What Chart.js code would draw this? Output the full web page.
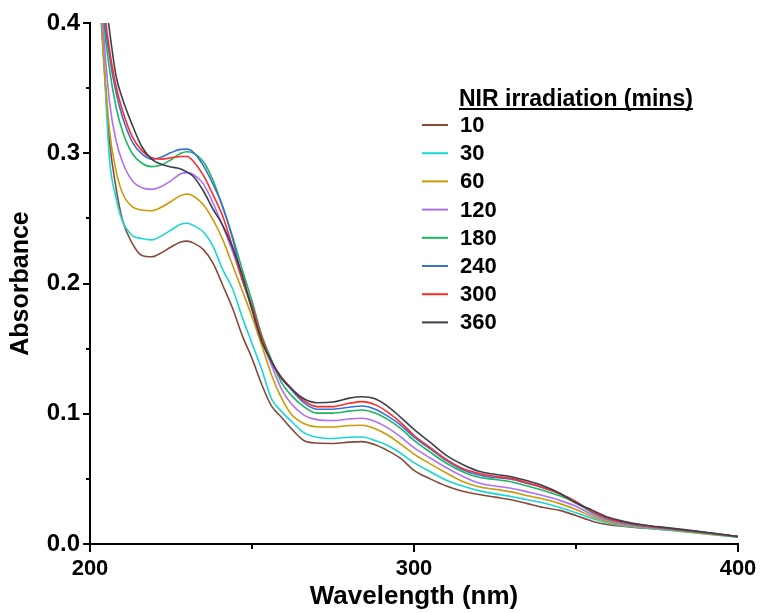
<!DOCTYPE html>
<html>
<head>
<meta charset="utf-8">
<script src="https://cdn.jsdelivr.net/npm/chart.js@4.4.1/dist/chart.umd.min.js"></script>
<style>
  html, body { margin: 0; padding: 0; background: #fff; }
  #wrap { width: 762px; height: 613px; }
</style>
</head>
<body>
<div id="wrap"><canvas id="uvChart" width="762" height="613"></canvas></div>
<script>
// wavelength (nm)
var wavelengths = [200, 202, 204, 206, 208, 210, 213, 216, 219, 222, 225, 228, 230, 232, 235, 238, 241, 244, 247, 250,
  253, 256, 259, 262, 266, 270, 275, 280, 284, 288, 292, 296, 300, 305, 310, 315, 320, 325, 330, 335,
  340, 345, 350, 355, 360, 365, 370, 380, 390, 400];

var seriesLabels = ["10", "30", "60", "120", "180", "240", "300", "360"];
var seriesColors = ["#874a3a", "#1ad6d6", "#cc9a06", "#b070f0", "#1db560", "#3b70d6", "#ff2a2a", "#3a3f4e"];

var abs10 = [0.56, 0.46, 0.38, 0.31, 0.274, 0.249, 0.231, 0.2215, 0.2205, 0.2235, 0.228, 0.2318, 0.2325, 0.231, 0.226, 0.2155, 0.1985, 0.181, 0.160, 0.1425,
  0.1225, 0.106, 0.0975, 0.089, 0.0795, 0.0775, 0.0772, 0.0782, 0.0786, 0.0762, 0.0715, 0.0655, 0.0565, 0.050, 0.0445, 0.0405, 0.038, 0.036, 0.034, 0.031,
  0.028, 0.0258, 0.0218, 0.0175, 0.0148, 0.0135, 0.0124, 0.0105, 0.0082, 0.0058];
var abs30 = [0.58, 0.47, 0.385, 0.296, 0.266, 0.248, 0.237, 0.2345, 0.2335, 0.2365, 0.241, 0.2455, 0.2462, 0.2445, 0.2395, 0.2283, 0.2105, 0.196, 0.174, 0.154,
  0.134, 0.1115, 0.102, 0.0945, 0.0855, 0.082, 0.081, 0.082, 0.0822, 0.0795, 0.0755, 0.0695, 0.0625, 0.0555, 0.049, 0.0445, 0.041, 0.0385, 0.0365, 0.034,
  0.0315, 0.028, 0.024, 0.0195, 0.016, 0.0138, 0.0125, 0.0102, 0.0078, 0.0052];
var abs60 = [0.59, 0.48, 0.385, 0.318, 0.287, 0.2695, 0.259, 0.2564, 0.2559, 0.2585, 0.263, 0.2675, 0.2687, 0.267, 0.2605, 0.2488, 0.2335, 0.214, 0.1945, 0.1745,
  0.1525, 0.130, 0.1125, 0.100, 0.0925, 0.090, 0.0898, 0.091, 0.0912, 0.0885, 0.0835, 0.0765, 0.069, 0.0615, 0.0545, 0.048, 0.044, 0.042, 0.040, 0.037,
  0.0345, 0.031, 0.0265, 0.021, 0.017, 0.0145, 0.013, 0.0105, 0.008, 0.0055];
var abs120 = [0.62, 0.49, 0.40, 0.34, 0.31, 0.2935, 0.279, 0.2735, 0.2723, 0.2745, 0.279, 0.2842, 0.2851, 0.2835, 0.2765, 0.2616, 0.244, 0.2245, 0.2025, 0.180,
  0.156, 0.1375, 0.1195, 0.108, 0.099, 0.0955, 0.0948, 0.096, 0.0965, 0.094, 0.089, 0.082, 0.074, 0.066, 0.0585, 0.052, 0.0468, 0.0445, 0.0428, 0.040,
  0.037, 0.0335, 0.029, 0.0225, 0.018, 0.015, 0.0135, 0.011, 0.0085, 0.0055];
var abs180 = [0.66, 0.51, 0.41, 0.365, 0.336, 0.317, 0.300, 0.2923, 0.2897, 0.291, 0.295, 0.300, 0.3012, 0.300, 0.2935, 0.279, 0.258, 0.236, 0.2105, 0.1865,
  0.1605, 0.1415, 0.1245, 0.1145, 0.1055, 0.1005, 0.1005, 0.102, 0.1029, 0.1005, 0.0955, 0.0885, 0.0795, 0.0705, 0.062, 0.0555, 0.0512, 0.0495, 0.0478, 0.0445,
  0.041, 0.037, 0.0315, 0.024, 0.019, 0.016, 0.014, 0.0112, 0.0085, 0.0055];
var abs240 = [0.68, 0.52, 0.415, 0.375, 0.347, 0.328, 0.309, 0.2995, 0.2955, 0.297, 0.3005, 0.303, 0.3032, 0.3005, 0.2905, 0.276, 0.259, 0.2345, 0.2035, 0.1825,
  0.158, 0.1395, 0.128, 0.119, 0.1085, 0.1035, 0.1035, 0.105, 0.106, 0.1035, 0.098, 0.091, 0.082, 0.073, 0.064, 0.057, 0.053, 0.051, 0.0497, 0.0465,
  0.043, 0.0385, 0.0325, 0.025, 0.0195, 0.0165, 0.0145, 0.0115, 0.0088, 0.0056];
var abs300 = [0.70, 0.53, 0.425, 0.38, 0.352, 0.333, 0.313, 0.302, 0.2965, 0.2955, 0.2965, 0.2975, 0.2975, 0.2935, 0.283, 0.268, 0.2515, 0.228, 0.203, 0.1825,
  0.1585, 0.140, 0.1285, 0.120, 0.110, 0.1055, 0.1055, 0.108, 0.1093, 0.107, 0.101, 0.093, 0.0835, 0.074, 0.065, 0.058, 0.0543, 0.052, 0.0504, 0.047,
  0.0432, 0.0385, 0.0325, 0.025, 0.0195, 0.0165, 0.0145, 0.0115, 0.0088, 0.0057];
var abs360 = [0.72, 0.55, 0.44, 0.395, 0.36, 0.342, 0.322, 0.305, 0.2955, 0.2915, 0.2895, 0.288, 0.2855, 0.282, 0.271, 0.257, 0.2445, 0.2275, 0.2065, 0.180,
  0.1555, 0.1405, 0.1275, 0.1195, 0.1115, 0.1085, 0.109, 0.112, 0.1131, 0.1115, 0.1055, 0.097, 0.088, 0.078, 0.068, 0.061, 0.0558, 0.0535, 0.0517, 0.0485,
  0.0445, 0.039, 0.0315, 0.026, 0.0205, 0.0172, 0.015, 0.012, 0.009, 0.0058];

var allSeries = [abs10, abs30, abs60, abs120, abs180, abs240, abs300, abs360];

var xMinorTicks = [250, 350];
var yMinorTicks = [0.05, 0.15, 0.25, 0.35];

var boldFont = "'Liberation Sans', Arial, sans-serif";

var datasets = allSeries.map(function(vals, i) {
  return {
    label: seriesLabels[i],
    data: vals.map(function(v, j) { return { x: wavelengths[j], y: v }; }),
    borderColor: seriesColors[i],
    backgroundColor: seriesColors[i],
    borderWidth: 1.6,
    pointRadius: 0,
    cubicInterpolationMode: "monotone",
    fill: false,
    order: allSeries.length - i   // later series drawn on top
  };
});

// minor ticks on both axes
var minorTicksPlugin = {
  id: "minorTicks",
  afterDraw: function(chart) {
    var ctx = chart.ctx;
    var xs = chart.scales.x, ys = chart.scales.y;
    ctx.save();
    ctx.strokeStyle = "#000";
    ctx.lineWidth = 2;
    xMinorTicks.forEach(function(v) {
      var px = Math.round(xs.getPixelForValue(v));
      ctx.beginPath();
      ctx.moveTo(px, ys.bottom);
      ctx.lineTo(px, ys.bottom + 5);
      ctx.stroke();
    });
    yMinorTicks.forEach(function(v) {
      var py = Math.round(ys.getPixelForValue(v));
      ctx.beginPath();
      ctx.moveTo(xs.left, py);
      ctx.lineTo(xs.left - 4, py);
      ctx.stroke();
    });
    ctx.restore();
  }
};

// legend in the style of the original figure
var figLegendPlugin = {
  id: "figLegend",
  afterDraw: function(chart) {
    var ctx = chart.ctx;
    ctx.save();
    ctx.fillStyle = "#000";
    ctx.font = "bold 23px " + boldFont;
    ctx.textBaseline = "alphabetic";
    ctx.textAlign = "left";
    var title = "NIR irradiation (mins)";
    ctx.fillText(title, 459, 106);
    var w = ctx.measureText(title).width;
    ctx.fillRect(459, 108, w, 2);
    ctx.font = "bold 22px " + boldFont;
    ctx.textBaseline = "middle";
    seriesLabels.forEach(function(lbl, i) {
      var y = 125 + i * 28.2;
      ctx.strokeStyle = seriesColors[i];
      ctx.lineWidth = 2;
      ctx.beginPath();
      ctx.moveTo(422, y);
      ctx.lineTo(448, y);
      ctx.stroke();
      ctx.fillStyle = "#000";
      ctx.fillText(lbl, 460, y + 1);
    });
    ctx.restore();
  }
};

var configUV = {
  type: "line",
  data: { datasets: datasets },
  options: {
    responsive: false,
    animation: false,
    devicePixelRatio: 1,
    layout: { padding: { top: 23, right: 24, left: 0, bottom: 0 } },
    plugins: {
      legend: { display: false },
      tooltip: { enabled: false }
    },
    scales: {
      x: {
        type: "linear",
        min: 200,
        max: 400,
        border: { color: "#000", width: 2 },
        grid: { drawOnChartArea: false, drawTicks: true, tickLength: 8, color: "#000", lineWidth: 2 },
        ticks: {
          stepSize: 100,
          color: "#000",
          padding: 4,
          maxRotation: 0,
          font: { family: boldFont, size: 22, weight: "bold" }
        },
        title: {
          display: true,
          text: "Wavelength (nm)",
          color: "#000",
          padding: { top: 0, bottom: 1 },
          font: { family: boldFont, size: 26, weight: "bold" }
        },
        afterFit: function(scale) { scale.height = 69; }
      },
      y: {
        type: "linear",
        min: 0,
        max: 0.4,
        border: { color: "#000", width: 2 },
        grid: { drawOnChartArea: false, drawTicks: true, tickLength: 7, color: "#000", lineWidth: 2 },
        ticks: {
          stepSize: 0.1,
          color: "#000",
          padding: 3,
          font: { family: boldFont, size: 24, weight: "bold" },
          callback: function(v) { return v.toFixed(1); }
        },
        title: {
          display: true,
          text: "Absorbance",
          color: "#000",
          padding: { top: 6, bottom: 0 },
          font: { family: boldFont, size: 25, weight: "bold" }
        },
        afterFit: function(scale) { scale.width = 90; }
      }
    }
  },
  plugins: [minorTicksPlugin, figLegendPlugin]
};

var uvChart = new Chart(document.getElementById("uvChart"), configUV);
</script>
</body>
</html>
